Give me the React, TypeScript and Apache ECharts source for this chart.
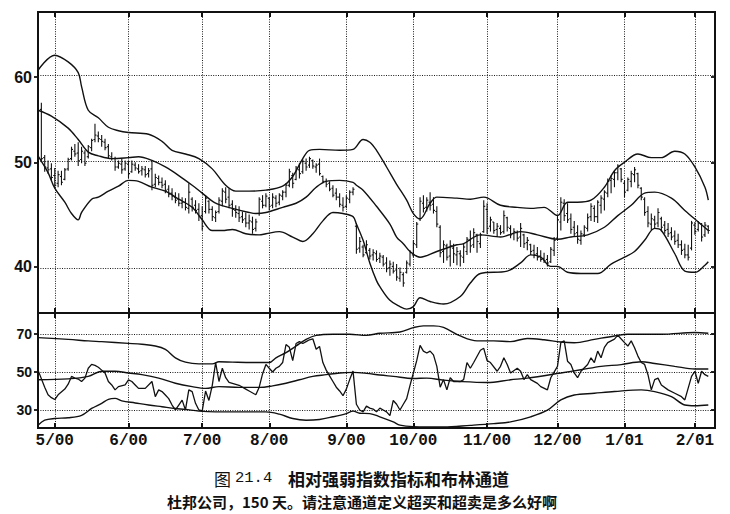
import React, { useEffect, useRef } from 'react';
import * as echarts from 'echarts';

// ---------- categories (trading days) ----------
const FIRST_DAY_UTC = Date.UTC(2000, 3, 24);
const DAY_COUNT = 203;
const marketHolidays = ['2000-05-29', '2000-07-04', '2000-09-04', '2000-11-23', '2000-12-25', '2001-01-01', '2001-01-15'];
const monthTickDates = ['2000-05-01', '2000-06-01', '2000-07-03', '2000-08-01', '2000-09-01', '2000-10-02', '2000-11-01', '2000-12-01', '2001-01-02', '2001-02-01'];
const monthTickLabels = ['5/00', '6/00', '7/00', '8/00', '9/00', '10/00', '11/00', '12/00', '1/01', '2/01'];

function buildTradingDays(count: number): string[] {
  const out: string[] = [];
  let t = FIRST_DAY_UTC;
  while (out.length < count) {
    const d = new Date(t);
    const wd = d.getUTCDay();
    const s = d.toISOString().slice(0, 10);
    if (wd !== 0 && wd !== 6 && marketHolidays.indexOf(s) < 0) out.push(s);
    t += 86400000;
  }
  return out;
}
const tradingDays = buildTradingDays(DAY_COUNT);

// ---------- price panel ----------
const FIRST_BAR_DAY = 1;
const priceTickValues = [40, 50, 60];
const PRICE_MIN = 36.2;
const PRICE_MAX = 69.0;

const barOpen = [
  56.0, 50.5, 49.4, 49.3, 48.6, 47.8, 48.5, 48.2, 49.3, 50.4,
  51.2, 51.0, 50.3, 51.0, 50.6, 51.6, 52.5, 52.9, 52.5, 52.2,
  51.7, 50.6, 50.4, 49.5, 49.8, 49.3, 49.8, 49.0, 49.7, 49.3,
  49.1, 49.2, 48.8, 49.3, 47.7, 48.3, 47.9, 47.7, 47.2, 46.8,
  46.4, 46.2, 45.8, 45.9, 45.3, 46.2, 45.6, 45.2, 44.6, 45.0,
  46.0, 45.2, 44.4, 45.0, 46.0, 46.9, 46.4, 45.7, 45.1, 44.8,
  44.5, 44.3, 43.9, 44.0, 43.4, 44.8, 46.0, 45.6, 46.3, 45.6,
  46.3, 45.9, 46.5, 46.9, 47.6, 48.6, 48.2, 49.2, 49.0, 49.9,
  49.7, 50.2, 49.5, 49.8, 48.5, 48.0, 47.8, 47.3, 46.8, 46.4,
  45.6, 45.5, 46.2, 46.9, 43.6, 41.6, 41.7, 41.2, 41.4, 41.0,
  41.1, 40.7, 40.8, 40.3, 39.9, 40.0, 39.7, 39.0, 39.3, 39.5,
  40.2, 41.0, 41.9, 44.3, 45.8, 45.4, 45.9, 45.7, 45.0, 43.5,
  41.3, 41.8, 40.9, 41.6, 41.0, 41.1, 40.8, 41.3, 42.3, 41.9,
  42.8, 42.0, 43.1, 45.2, 43.6, 44.0, 43.3, 43.4, 43.1, 44.4,
  43.4, 42.9, 43.0, 42.6, 42.8, 42.1, 41.9, 41.4, 41.1, 40.9,
  40.7, 40.6, 40.4, 41.4, 42.5, 44.0, 45.8, 44.8, 44.3, 43.5,
  43.0, 42.3, 42.8, 43.4, 44.5, 45.3, 44.5, 45.6, 46.2, 46.8,
  48.1, 48.2, 48.9, 49.3, 47.8, 47.1, 48.0, 48.7, 48.8, 47.3,
  46.2, 45.0, 43.8, 44.2, 43.9, 44.3, 43.7, 43.3, 43.0, 42.7,
  42.3, 41.9, 41.5, 41.0, 41.6, 43.7, 43.3, 43.8, 42.8, 43.6,
];
const barHigh = [
  56.8, 50.8, 50.2, 49.9, 49.4, 49.1, 49.1, 49.4, 50.5, 51.7,
  52.0, 52.2, 51.7, 51.3, 51.9, 52.6, 54.3, 53.4, 53.0, 52.6,
  52.0, 51.1, 50.6, 50.2, 50.4, 50.2, 50.2, 50.2, 50.0, 49.8,
  49.6, 49.6, 49.4, 50.2, 48.8, 48.6, 48.4, 48.1, 47.6, 47.3,
  46.9, 46.8, 46.4, 46.3, 47.8, 46.4, 46.1, 45.8, 45.5, 46.6,
  46.1, 45.5, 45.1, 46.4, 47.3, 47.4, 47.3, 46.1, 45.6, 45.5,
  45.0, 44.9, 44.7, 44.5, 44.3, 46.4, 46.6, 46.8, 46.4, 46.8,
  46.6, 46.8, 47.1, 47.8, 49.3, 48.9, 49.6, 49.9, 50.3, 50.4,
  50.6, 50.3, 49.9, 50.4, 48.6, 48.3, 48.0, 47.6, 47.3, 46.8,
  46.4, 46.6, 47.1, 47.4, 43.9, 42.6, 41.9, 42.3, 41.6, 41.5,
  41.4, 41.2, 41.0, 40.8, 40.5, 40.4, 40.2, 39.9, 39.5, 40.5,
  41.4, 42.3, 44.0, 46.4, 46.6, 46.4, 46.9, 46.4, 45.5, 43.7,
  42.3, 42.0, 42.3, 42.0, 41.7, 41.4, 42.0, 42.6, 43.2, 43.4,
  42.9, 43.0, 46.1, 45.8, 44.5, 44.0, 43.9, 43.7, 45.1, 44.5,
  43.7, 43.4, 43.2, 43.9, 42.9, 42.6, 42.0, 41.9, 41.7, 41.4,
  41.2, 41.0, 41.7, 42.6, 44.5, 46.4, 46.2, 45.8, 44.8, 44.1,
  43.7, 43.2, 43.7, 44.8, 45.8, 45.6, 46.1, 46.6, 47.1, 48.3,
  48.6, 49.1, 49.8, 49.4, 48.1, 48.4, 49.1, 49.5, 48.9, 47.4,
  46.4, 45.5, 44.8, 44.6, 45.3, 44.5, 44.1, 43.9, 43.5, 43.2,
  42.9, 42.3, 42.0, 41.9, 44.1, 44.0, 44.1, 43.9, 44.0, 43.7,
];
const barLow = [
  50.0, 49.0, 48.8, 48.1, 47.3, 47.4, 47.6, 48.1, 49.1, 50.2,
  50.6, 49.6, 49.9, 49.6, 50.4, 51.2, 52.2, 52.2, 51.7, 51.3,
  50.4, 50.2, 49.1, 49.3, 48.8, 49.1, 48.3, 48.9, 49.1, 48.8,
  48.6, 48.4, 48.4, 47.1, 47.4, 47.6, 47.3, 46.8, 46.4, 46.1,
  45.8, 45.5, 45.3, 45.1, 44.8, 45.0, 44.8, 44.1, 43.2, 44.8,
  44.8, 44.1, 44.0, 44.8, 45.5, 45.8, 45.3, 44.5, 44.4, 44.0,
  43.9, 43.5, 43.3, 42.9, 43.1, 44.6, 45.3, 45.4, 45.1, 45.3,
  45.4, 45.6, 46.1, 46.4, 47.4, 47.3, 48.1, 48.3, 48.8, 49.1,
  49.4, 49.3, 48.9, 48.6, 47.8, 47.4, 47.0, 46.4, 46.1, 45.4,
  45.0, 45.3, 45.8, 46.6, 41.1, 41.2, 40.8, 41.1, 40.6, 40.5,
  40.4, 40.3, 40.0, 39.5, 39.2, 39.4, 38.8, 38.7, 38.3, 39.4,
  40.0, 40.8, 41.6, 44.1, 44.9, 45.0, 45.1, 44.8, 43.5, 40.8,
  40.3, 40.5, 40.0, 40.3, 40.1, 40.0, 40.3, 41.0, 41.2, 41.6,
  41.2, 41.6, 43.0, 42.9, 43.1, 42.9, 42.6, 42.8, 42.9, 43.1,
  42.5, 42.3, 42.2, 41.7, 41.6, 41.4, 41.0, 40.7, 40.5, 40.4,
  40.3, 40.0, 40.3, 40.9, 42.3, 43.2, 44.1, 43.9, 42.9, 42.6,
  42.0, 41.9, 42.6, 43.1, 44.1, 44.0, 43.9, 44.8, 45.1, 46.4,
  46.8, 47.4, 48.1, 47.9, 46.4, 47.0, 47.4, 47.9, 47.3, 46.1,
  44.6, 43.5, 43.2, 43.4, 43.5, 43.1, 42.9, 42.6, 42.3, 41.9,
  41.6, 41.0, 40.7, 40.5, 41.4, 42.8, 43.1, 42.2, 42.6, 42.9,
];
const barClose = [
  50.4, 49.5, 49.2, 48.4, 47.6, 48.7, 47.9, 49.2, 50.3, 51.4,
  50.9, 50.2, 51.2, 49.9, 51.7, 52.4, 53.0, 52.6, 52.3, 51.6,
  50.7, 50.4, 49.5, 49.9, 49.2, 49.9, 48.8, 49.8, 49.4, 49.0,
  49.3, 48.7, 49.1, 47.6, 48.4, 47.9, 47.6, 47.1, 46.7, 46.5,
  46.1, 45.8, 45.9, 45.4, 46.9, 45.4, 45.1, 44.5, 43.6, 46.3,
  45.2, 44.5, 44.9, 46.1, 47.0, 46.2, 45.6, 45.2, 44.9, 44.4,
  44.2, 43.9, 44.1, 43.3, 44.0, 46.2, 45.6, 46.5, 45.5, 46.4,
  45.8, 46.6, 46.9, 47.6, 49.0, 47.8, 49.4, 48.8, 50.1, 49.5,
  50.4, 49.6, 49.7, 48.8, 48.0, 47.7, 47.2, 46.6, 46.4, 45.7,
  45.4, 46.3, 46.9, 47.2, 41.5, 42.2, 41.0, 41.9, 40.9, 41.2,
  40.6, 40.9, 40.2, 39.8, 40.2, 39.6, 39.1, 39.5, 38.6, 40.3,
  41.2, 42.0, 43.8, 46.0, 45.3, 46.1, 45.6, 45.1, 43.8, 41.2,
  41.9, 40.8, 41.8, 41.1, 41.3, 40.9, 41.7, 42.4, 41.8, 43.0,
  42.2, 42.8, 45.5, 43.4, 44.2, 43.2, 43.6, 43.0, 44.6, 43.5,
  42.8, 43.1, 42.5, 43.4, 42.0, 42.3, 41.3, 41.0, 40.8, 40.6,
  40.5, 40.3, 41.5, 42.3, 44.2, 45.9, 44.6, 44.2, 43.3, 42.9,
  42.4, 42.9, 43.5, 44.4, 45.5, 44.5, 45.9, 46.3, 46.9, 48.0,
  48.3, 48.9, 49.6, 48.2, 46.9, 48.2, 48.8, 49.2, 47.6, 46.4,
  44.9, 43.9, 44.3, 43.8, 44.9, 43.5, 43.2, 42.9, 42.6, 42.2,
  41.9, 41.4, 41.0, 40.8, 43.9, 43.1, 43.9, 42.6, 43.7, 43.2,
];

// Bollinger bands on price: [trading-day index, price]
const priceUpper = [
  [0, 60.9], [5, 62.9], [9, 62.0], [12, 60.6], [13, 58.8], [15, 55.9], [18, 55.0], [21, 53.9], [24, 53.5],
  [27, 53.3], [33, 53.1], [37, 52.3], [40, 51.3], [44, 50.9], [48, 50.4], [52, 49.3], [56, 47.6], [59, 47.0],
  [63, 47.0], [68, 47.1], [73, 47.5], [76, 48.5], [79, 50.4], [81, 51.3], [84, 51.4], [90, 51.3], [94, 51.4],
  [97, 52.5], [99, 52.2], [101, 51.3], [104, 49.5], [107, 47.7], [110, 46.1], [112, 44.8], [114, 44.3],
  [117, 45.8], [119, 46.4], [125, 46.3], [129, 46.2], [133, 46.4], [138, 45.6], [143, 45.4], [147, 45.3],
  [151, 45.4], [155, 44.6], [158, 45.9], [161, 45.9], [165, 46.1], [169, 47.4], [172, 49.1], [175, 50.0],
  [179, 50.9], [183, 50.5], [186, 50.5], [190, 51.2], [193, 50.9], [196, 49.5], [199, 47.4], [200, 46.1],
];
const priceMiddle = [
  [0, 55.9], [4, 55.2], [9, 53.8], [12, 52.5], [15, 51.1], [18, 50.7], [22, 50.4], [27, 50.5], [30, 50.6],
  [34, 50.2], [38, 49.5], [42, 48.6], [46, 47.6], [49, 46.8], [53, 45.8], [58, 45.3], [63, 44.9], [65, 44.8],
  [68, 44.9], [73, 45.4], [77, 45.8], [80, 46.4], [83, 47.4], [86, 48.0], [90, 48.1], [94, 47.9], [95, 47.6],
  [97, 47.1], [101, 45.5], [105, 43.8], [107, 42.6], [109, 42.0], [111, 41.3], [114, 40.8], [119, 41.3],
  [125, 41.9], [127, 42.0], [132, 42.8], [138, 42.6], [144, 43.1], [149, 42.8], [155, 42.4], [159, 42.6],
  [164, 42.8], [169, 43.5], [173, 44.6], [177, 45.6], [181, 46.8], [184, 46.9], [189, 46.3], [193, 45.1],
  [197, 44.0], [200, 43.2],
];
const priceLower = [
  [0, 50.7], [3, 48.9], [5, 47.3], [8, 45.9], [10, 44.8], [12, 44.2], [13, 44.9], [16, 46.2], [18, 46.4],
  [21, 47.0], [24, 47.5], [27, 48.1], [30, 48.0], [34, 47.4], [38, 47.0], [42, 46.2], [46, 45.4], [49, 44.2],
  [52, 43.2], [55, 43.2], [58, 43.3], [62, 42.9], [66, 42.8], [68, 42.9], [72, 43.1], [76, 42.6], [79, 42.2],
  [82, 42.9], [85, 44.1], [88, 44.9], [91, 44.8], [94, 44.5], [95, 43.8], [97, 42.3], [99, 40.3], [101, 38.8],
  [102, 38.3], [105, 37.2], [108, 36.7], [110, 36.5], [112, 36.7], [114, 37.4], [117, 37.1], [121, 36.9],
  [126, 37.5], [129, 38.6], [132, 39.4], [140, 39.6], [144, 40.3], [147, 41.0], [150, 40.8], [153, 40.0],
  [155, 40.0], [158, 39.5], [162, 39.4], [167, 39.4], [171, 40.2], [175, 40.8], [178, 41.3], [181, 42.3],
  [184, 43.4], [186, 43.2], [190, 41.1], [193, 39.6], [196, 39.5], [199, 40.1], [200, 40.4],
];

// ---------- RSI panel ----------
const rsiTickValues = [30, 50, 70];
const RSI_MIN = 20.5;
const RSI_MAX = 81.1;

const rsiLine = [
  [0, 51], [2, 42], [3, 38], [4, 36.5], [5, 35.5], [6, 38], [8, 41], [9, 43.6], [10, 47.7], [11, 46.8],
  [12, 46.3], [13, 45], [14, 46.8], [15, 52], [16, 54], [17, 53.5], [18, 52.5], [19, 51], [20, 49.5],
  [21, 45], [22, 43.2], [23, 40.6], [24, 42.3], [26, 43.2], [27, 45.9], [28, 45], [29, 43.2], [30, 41.4],
  [32, 41.4], [34, 45], [35, 37], [36, 40.6], [37, 39.7], [38, 37.9], [39, 36], [40, 32.6], [41, 30],
  [42, 32.6], [43, 35.2], [44, 30], [45, 40.6], [46, 39.7], [47, 33.5], [48, 30], [49, 29.5], [50, 40],
  [51, 35], [52, 43], [53, 55], [54, 45], [55, 52], [56, 47], [57, 44.5], [58, 44], [60, 43], [62, 41],
  [63, 40], [65, 38], [66, 42], [67, 49], [68, 54], [69, 52], [70, 50], [71, 52], [72, 53], [73, 55],
  [74, 64.5], [75, 63], [76, 56], [77, 65], [78, 66], [79, 65], [80, 66], [81, 67], [82, 67.5], [83, 62],
  [84, 63.5], [85, 55], [86, 51], [87, 48], [88, 45], [89, 42], [90, 40], [91, 37.5], [92, 41], [93, 46],
  [94, 50.5], [95, 33], [96, 30], [97, 29], [98, 32], [99, 31], [100, 30.5], [101, 29], [102, 31],
  [103, 30], [104, 29], [105, 27], [106, 35], [107, 33], [108, 30], [109, 33], [110, 36], [111, 43],
  [112, 49.5], [113, 56], [114, 64], [115, 61], [116, 60], [117, 61], [118, 59], [119, 53], [120, 42],
  [121, 46], [122, 40.6], [123, 47], [124, 45], [126, 45], [127, 46], [128, 55], [129, 52], [130, 55],
  [132, 61.5], [133, 62.5], [134, 56], [135, 55], [137, 50.4], [138, 53], [139, 57.5], [140, 54],
  [141, 49.5], [143, 52], [144, 50.4], [145, 46], [146, 48.6], [147, 46], [149, 44], [150, 42.3],
  [152, 40.6], [153, 47], [155, 53], [156, 65.5], [157, 66.4], [158, 55.7], [159, 54], [160, 49.5],
  [161, 47], [162, 50.4], [164, 54], [165, 57.5], [166, 55], [167, 61], [168, 57.5], [169, 63],
  [170, 65.5], [172, 67.3], [173, 69.4], [175, 65.5], [176, 63.7], [177, 66.4], [178, 62.8], [179, 58.4],
  [180, 55], [181, 54], [182, 48.6], [183, 40.6], [184, 46], [185, 46.8], [186, 43.2], [188, 40.6],
  [190, 38.8], [192, 37], [193, 35.3], [195, 47.7], [196, 50.4], [197, 44.1], [198, 50.4], [199, 48.6],
  [200, 47.7],
];
const rsiUpper = [
  [0, 68.1], [9, 67.2], [15, 66.4], [19, 66.0], [27, 65.1], [31, 64.6], [35, 63.7], [38, 61.9], [41, 57.5],
  [44, 55.2], [48, 54.3], [52, 54.3], [54, 55.4], [58, 55.2], [64, 55.0], [69, 55.0], [71, 57.5], [74, 60.2],
  [77, 63.7], [80, 67.2], [83, 69.3], [88, 69.9], [93, 69.9], [98, 69.3], [102, 70.4], [108, 71.1],
  [112, 73.4], [115, 74.3], [118, 74.3], [121, 73.5], [126, 69.0], [131, 66.4], [136, 66.4], [141, 66.0],
  [146, 67.7], [151, 67.0], [156, 65.8], [160, 65.4], [166, 67.2], [172, 69.0], [176, 69.9], [186, 69.9],
  [196, 70.8], [200, 70.4],
];
const rsiMiddle = [
  [0, 45.9], [9, 46.4], [15, 47.7], [19, 50.4], [23, 50.4], [27, 49.5], [31, 48.6], [36, 46.8], [41, 44.1],
  [46, 42.3], [50, 41.4], [54, 42.3], [60, 41.9], [66, 41.9], [70, 42.7], [74, 44.1], [78, 45.9], [82, 47.7],
  [86, 48.6], [90, 49.5], [94, 49.8], [98, 49.3], [102, 48.4], [106, 47.7], [112, 46.6], [116, 46.8],
  [121, 45.7], [126, 45.0], [134, 44.5], [141, 45.9], [146, 46.8], [156, 49.5], [162, 51.2], [168, 53.0],
  [174, 53.9], [180, 55.4], [184, 54.5], [190, 53.0], [196, 51.6], [200, 51.6],
];
const rsiLower = [
  [0, 21.9], [2, 24.6], [5, 25.5], [9, 25.9], [13, 27.2], [16, 30.8], [19, 33.5], [21, 35.6], [23, 36.1],
  [25, 34.8], [29, 33.7], [33, 32.6], [37, 31.7], [41, 30.8], [44, 30.3], [48, 29.4], [53, 29.0], [60, 29.0],
  [68, 29.0], [72, 27.8], [76, 25.5], [80, 24.6], [84, 25.0], [88, 26.4], [92, 28.1], [94, 29.4], [96, 28.3],
  [99, 28.1], [102, 26.4], [106, 23.7], [108, 22.0], [112, 21.2], [121, 21.0], [129, 21.9], [136, 22.8],
  [141, 23.7], [147, 26.4], [152, 29.9], [156, 35.3], [160, 37.9], [166, 38.8], [172, 39.7], [180, 40.6],
  [184, 39.7], [189, 37.0], [193, 32.6], [196, 32.2], [200, 32.6],
];

// ---------- helpers ----------
const lg = (v: number) => Math.log10(v);
const INK = '#111';
const GRID_DOT = { type: [1, 1.4] as any, color: '#000', width: 0.9 };
const isMonthStart = (_i: number, value: string) => monthTickDates.indexOf(value) >= 0;

function buildOption() {
  const bars = barHigh.map((h, k) => [k + FIRST_BAR_DAY, lg(barOpen[k]), lg(h), lg(barLow[k]), lg(barClose[k])]);
  const toLogPairs = (arr: number[][]) => arr.map(([d, v]) => [d, lg(v)]);
  const bandLine = (name: string, data: number[][], xi: number, yi: number, extra: any = {}) => ({
    type: 'line', name, xAxisIndex: xi, yAxisIndex: yi, data, symbol: 'none', smooth: 0.35,
    lineStyle: { color: INK, width: 1.4 }, silent: true, z: 3, ...extra,
  });

  const xBase = (gridIndex: number, position: 'top' | 'bottom', labels: boolean, split: boolean) => ({
    type: 'category', gridIndex, position, data: tradingDays, boundaryGap: false,
    axisLine: { show: false },
    axisTick: { show: true, inside: true, length: 5, interval: isMonthStart, lineStyle: { color: INK, width: 2 } },
    axisLabel: labels ? {
      show: true, interval: isMonthStart, margin: 5,
      formatter: (v: string) => { const k = monthTickDates.indexOf(v); return k >= 0 ? monthTickLabels[k] : ''; },
      fontFamily: '"Liberation Mono", monospace', fontSize: 16, fontWeight: 'bold', color: INK,
    } : { show: false },
    splitLine: { show: split, interval: isMonthStart, lineStyle: GRID_DOT },
  });

  const priceTicksLog = priceTickValues.map(lg);
  const yPrice = (position: 'left' | 'right', labels: boolean) => ({
    type: 'value', gridIndex: 0, position, min: lg(PRICE_MIN), max: lg(PRICE_MAX),
    axisLine: { show: false },
    axisTick: { show: true, inside: position === 'right', length: 4, customValues: priceTicksLog, lineStyle: { color: INK, width: 1.8 } },
    axisLabel: labels ? {
      show: true, customValues: priceTicksLog, margin: 6,
      formatter: (v: number) => String(Math.round(Math.pow(10, v))),
      fontFamily: '"Liberation Sans", Arial, sans-serif', fontSize: 16, fontWeight: 'bold', color: INK,
    } : { show: false },
    splitLine: { show: false },
  });
  const yRsi = (position: 'left' | 'right', labels: boolean) => ({
    type: 'value', gridIndex: 1, position, min: RSI_MIN, max: RSI_MAX,
    axisLine: { show: false },
    axisTick: { show: true, inside: position === 'right', length: 4, customValues: rsiTickValues, lineStyle: { color: INK, width: 1.8 } },
    axisLabel: labels ? {
      show: true, customValues: rsiTickValues, margin: 6,
      fontFamily: '"Liberation Sans", Arial, sans-serif', fontSize: 14, fontWeight: 'bold', color: INK,
    } : { show: false },
    splitLine: { show: false },
  });

  return {
    animation: false,
    backgroundColor: '#fff',
    grid: [
      { left: 38, top: 12, width: 677, height: 301, show: true, borderColor: INK, borderWidth: 2, backgroundColor: 'transparent' },
      { left: 38, top: 313, width: 677, height: 115, show: true, borderColor: INK, borderWidth: 2, backgroundColor: 'transparent' },
    ],
    xAxis: [
      xBase(0, 'bottom', false, true),
      xBase(0, 'top', false, false),
      xBase(1, 'bottom', true, true),
      xBase(1, 'top', false, false),
    ],
    yAxis: [yPrice('left', true), yPrice('right', false), yRsi('left', true), yRsi('right', false)],
    series: [
      {
        type: 'custom', name: 'price', xAxisIndex: 0, yAxisIndex: 0, data: bars, z: 2, silent: true,
        encode: { x: 0, y: [1, 2, 3, 4] },
        renderItem: (_p: any, api: any) => {
          const x = api.value(0);
          const o = api.coord([x, api.value(1)]);
          const h = api.coord([x, api.value(2)]);
          const l = api.coord([x, api.value(3)]);
          const c = api.coord([x, api.value(4)]);
          const t = 1.5;
          const st = { stroke: INK, lineWidth: 1.1 };
          return {
            type: 'group',
            children: [
              { type: 'line', shape: { x1: h[0], y1: h[1], x2: l[0], y2: l[1] }, style: st },
              { type: 'line', shape: { x1: o[0] - t, y1: o[1], x2: o[0], y2: o[1] }, style: st },
              { type: 'line', shape: { x1: c[0], y1: c[1], x2: c[0] + t, y2: c[1] }, style: st },
            ],
          };
        },
      },
      bandLine('upper', toLogPairs(priceUpper), 0, 0, {
        markLine: {
          silent: true, symbol: 'none', label: { show: false }, lineStyle: GRID_DOT,
          data: priceTicksLog.map((v) => ({ yAxis: v })),
        },
      }),
      bandLine('middle', toLogPairs(priceMiddle), 0, 0),
      bandLine('lower', toLogPairs(priceLower), 0, 0),
      bandLine('rsiUpper', rsiUpper, 2, 2, {
        markLine: {
          silent: true, symbol: 'none', label: { show: false }, lineStyle: GRID_DOT,
          data: rsiTickValues.map((v) => ({ yAxis: v })),
        },
      }),
      bandLine('rsiMiddle', rsiMiddle, 2, 2),
      bandLine('rsiLower', rsiLower, 2, 2),
      { type: 'line', name: 'rsi', xAxisIndex: 2, yAxisIndex: 2, data: rsiLine, symbol: 'none', smooth: false, lineStyle: { color: INK, width: 1.3 }, silent: true, z: 4 },
    ],
    graphic: [
      { type: 'text', x: 214, y: 478, silent: true, style: { text: '图', fontFamily: '"Noto Sans CJK SC"', fontSize: 17, fill: INK, textVerticalAlign: 'middle', verticalAlign: 'middle' } },
      { type: 'text', x: 235, y: 478, silent: true, style: { text: '21.4', fontFamily: '"Liberation Mono", monospace', fontSize: 15.5, fill: INK, textVerticalAlign: 'middle', verticalAlign: 'middle' } },
      { type: 'text', x: 288, y: 478, silent: true, style: { text: '相对强弱指数指标和布林通道', fontFamily: '"Noto Sans CJK SC"', fontSize: 17, fontWeight: 'bold', fill: INK, textVerticalAlign: 'middle', verticalAlign: 'middle' } },
      { type: 'text', x: 167, y: 501, silent: true, style: { text: '杜邦公司，150 天。请注意通道定义超买和超卖是多么好啊', fontFamily: '"Noto Sans CJK SC"', fontSize: 15, fontWeight: 'bold', fill: INK, textVerticalAlign: 'middle', verticalAlign: 'middle' } },
    ],
  };
}

export default function App() {
  const ref = useRef<HTMLDivElement>(null);
  useEffect(() => {
    if (!ref.current) return;
    const chart = echarts.init(ref.current, null, { renderer: 'svg' });
    chart.setOption(buildOption() as any);
    return () => chart.dispose();
  }, []);
  return <div ref={ref} style={{ position: 'fixed', left: 0, top: 0, width: 730, height: 514, background: '#fff' }} />;
}
